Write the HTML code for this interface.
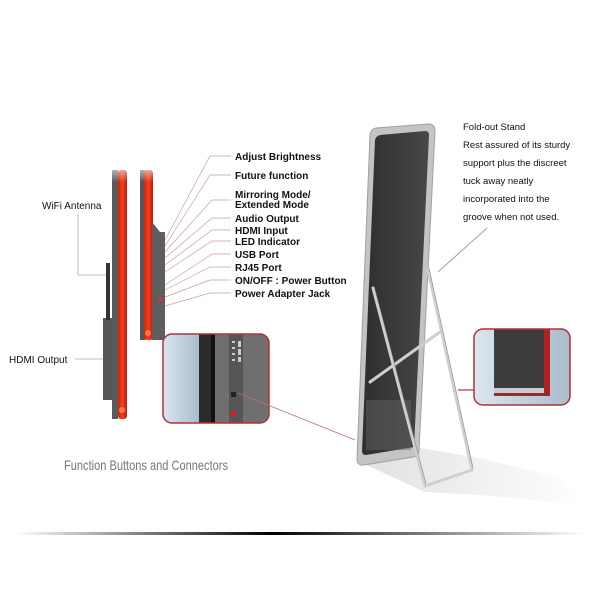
<!DOCTYPE html>
<html><head><meta charset="utf-8"><style>
html,body{margin:0;padding:0;background:#fff;width:600px;height:600px;overflow:hidden}
svg{display:block}
.b{font-family:"Liberation Sans Narrow","Liberation Sans",sans-serif;font-weight:bold;font-size:10px;fill:#111}
.s{font-family:"Liberation Sans",sans-serif;font-size:9.5px;fill:#111}
</style></head><body>
<svg width="600" height="600" viewBox="0 0 600 600" xmlns="http://www.w3.org/2000/svg">
<defs>
<linearGradient id="red" x1="0" x2="1"><stop offset="0" stop-color="#c42a12"/><stop offset=".5" stop-color="#ff3a1a"/><stop offset="1" stop-color="#b0200e"/></linearGradient>
<linearGradient id="fadeT" x1="0" y1="0" x2="0" y2="1"><stop offset="0" stop-color="#fff" stop-opacity="1"/><stop offset="1" stop-color="#fff" stop-opacity="0"/></linearGradient>
<linearGradient id="bar" x1="0" x2="1"><stop offset="0" stop-color="#fff"/><stop offset=".45" stop-color="#000"/><stop offset="1" stop-color="#fff"/></linearGradient>
<linearGradient id="sh" x1="0" x2="1"><stop offset="0" stop-color="#c8c8c8"/><stop offset="1" stop-color="#fff"/></linearGradient>
<linearGradient id="blue" x1="0" x2="1"><stop offset="0" stop-color="#dbe6ee"/><stop offset="1" stop-color="#a9bccb"/></linearGradient>
<linearGradient id="scr" x1="0" x2="1"><stop offset="0" stop-color="#2e2e2e"/><stop offset="1" stop-color="#474747"/></linearGradient>
</defs>

<rect x="103" y="318" width="11" height="82" fill="#555"/>
<rect x="106" y="263" width="4" height="57" fill="#333"/>
<rect x="112" y="170" width="6" height="249" fill="#5a5a5a"/>
<rect x="118" y="170" width="9" height="249" rx="3" fill="url(#red)"/>
<circle cx="122" cy="410" r="3" fill="#ff7a40"/>
<rect x="140" y="170" width="5" height="170" fill="#555"/>
<rect x="144" y="170" width="9" height="170" rx="3" fill="url(#red)"/>
<polygon points="152,222 160,232 165,232 165,340 152,340" fill="#5e5e5e"/>
<circle cx="148" cy="333" r="3" fill="#ff7a40"/>
<rect x="158" y="297" width="4" height="4" fill="#d33"/>
<rect x="110" y="160" width="60" height="22" fill="url(#fadeT)"/>

<text x="42" y="209" style="font-family:'Liberation Sans',sans-serif;font-size:10px;fill:#111">WiFi Antenna</text>
<polyline points="78,214 78,275 106,275" fill="none" stroke="#c9a0a0" stroke-width="0.8"/>
<text x="9" y="363" style="font-family:'Liberation Sans',sans-serif;font-size:10px;fill:#111">HDMI Output</text>
<line x1="75" y1="359" x2="103" y2="359" stroke="#c9a0a0" stroke-width="0.8"/>

<g fill="none" stroke="#c9a0a0" stroke-width="0.7">
<polyline points="231,156 210,156 165,240"/>
<polyline points="231,175 210,175 165,246"/>
<polyline points="231,200 212,200 165,252"/>
<polyline points="231,218 212,218 165,258"/>
<polyline points="231,230 212,230 165,265"/>
<polyline points="231,241 212,241 165,272"/>
<polyline points="231,254 212,254 165,285"/>
<polyline points="231,267 210,267 165,290"/>
<polyline points="231,280 210,280 165,297"/>
<polyline points="231,293 210,293 165,306"/>
</g>
<text class="b" x="235" y="160">Adjust Brightness</text>
<text class="b" x="235" y="179">Future function</text>
<text class="b" x="235" y="198">Mirroring Mode/</text>
<text class="b" x="235" y="208">Extended Mode</text>
<text class="b" x="235" y="222">Audio Output</text>
<text class="b" x="235" y="234">HDMI Input</text>
<text class="b" x="235" y="245">LED Indicator</text>
<text class="b" x="235" y="258">USB Port</text>
<text class="b" x="235" y="271">RJ45 Port</text>
<text class="b" x="235" y="284">ON/OFF : Power Button</text>
<text class="b" x="235" y="297">Power Adapter Jack</text>

<clipPath id="c1"><rect x="163" y="334" width="106" height="89" rx="9"/></clipPath>
<g clip-path="url(#c1)">
<rect x="163" y="334" width="106" height="89" fill="#6f6f6f"/>
<rect x="163" y="334" width="36" height="89" fill="url(#blue)"/>
<rect x="199" y="334" width="12" height="89" fill="#2a2a2a"/>
<rect x="211" y="334" width="4" height="89" fill="#111"/>
<rect x="229" y="334" width="14" height="89" fill="#555"/>
<g fill="#ccc"><rect x="232" y="341" width="3" height="2"/><rect x="232" y="347" width="3" height="2"/><rect x="232" y="353" width="3" height="2"/><rect x="232" y="359" width="3" height="2"/><rect x="238" y="341" width="3" height="6"/><rect x="238" y="349" width="3" height="6"/><rect x="238" y="357" width="3" height="5"/></g>
<rect x="231" y="392" width="5" height="5" fill="#222"/>
<rect x="231" y="411" width="5" height="5" fill="#c22"/>
</g>
<rect x="163" y="334" width="106" height="89" rx="9" fill="none" stroke="#b0303a" stroke-width="1.5"/>
<line x1="238" y1="393" x2="355" y2="440" stroke="#c07070" stroke-width="0.8"/>

<text x="64" y="470" textLength="164" lengthAdjust="spacingAndGlyphs" style="font-family:'Liberation Sans Narrow','Liberation Sans',sans-serif;font-size:14px;fill:#777">Function Buttons and Connectors</text>

<polygon points="360,462 420,448 480,458 560,478 585,505 480,495 425,492" fill="url(#sh)" opacity="0.55"/>

<path d="M376,128 L428,124 Q435,124 435,131 L419,450 Q419,456 413,457 L364,465 Q357,466 357,459 L370,135 Q371,129 376,128 Z" fill="#c4c4c4" stroke="#a0a0a0" stroke-width="1"/>
<path d="M380,135 L425,131 Q429,131 429,135 L414,447 L366,455 Q362,455 362,451 L375,140 Q376,136 380,135 Z" fill="url(#scr)"/>
<rect x="366" y="400" width="45" height="50" fill="#666" opacity="0.45"/>

<g fill="none" stroke="#cfcfcf" stroke-width="3" stroke-linecap="round">
<line x1="373" y1="288" x2="425" y2="486"/>
<line x1="428" y1="270" x2="472" y2="470"/>
<line x1="425" y1="486" x2="472" y2="470"/>
<line x1="440" y1="332" x2="370" y2="382"/>
</g>
<g fill="none" stroke="#8a8a8a" stroke-width="0.6">
<line x1="374" y1="286" x2="426" y2="484"/>
<line x1="429" y1="268" x2="473" y2="468"/>
</g>

<g class="s">
<text x="463" y="130">Fold-out Stand</text>
<text x="463" y="148">Rest assured of its sturdy</text>
<text x="463" y="166">support plus the discreet</text>
<text x="463" y="184">tuck away neatly</text>
<text x="463" y="202">incorporated into the</text>
<text x="463" y="220">groove when not used.</text>
</g>
<line x1="487" y1="228" x2="438" y2="272" stroke="#c07070" stroke-width="0.8"/>

<clipPath id="c2"><rect x="474" y="329" width="96" height="76" rx="9"/></clipPath>
<g clip-path="url(#c2)">
<rect x="474" y="329" width="96" height="76" fill="url(#blue)"/>
<rect x="494" y="329" width="50" height="62" fill="#3c3c3c"/>
<rect x="544" y="329" width="6" height="64" fill="#b02020"/>
<rect x="494" y="388" width="50" height="5" fill="#ccc"/>
<rect x="494" y="393" width="56" height="3" fill="#8a3030"/>
</g>
<rect x="474" y="329" width="96" height="76" rx="9" fill="none" stroke="#b0303a" stroke-width="1.5"/>
<line x1="458" y1="390" x2="474" y2="390" stroke="#b0303a" stroke-width="1.2"/>

<rect x="15" y="532" width="570" height="3" fill="url(#bar)"/>
</svg>
</body></html>
